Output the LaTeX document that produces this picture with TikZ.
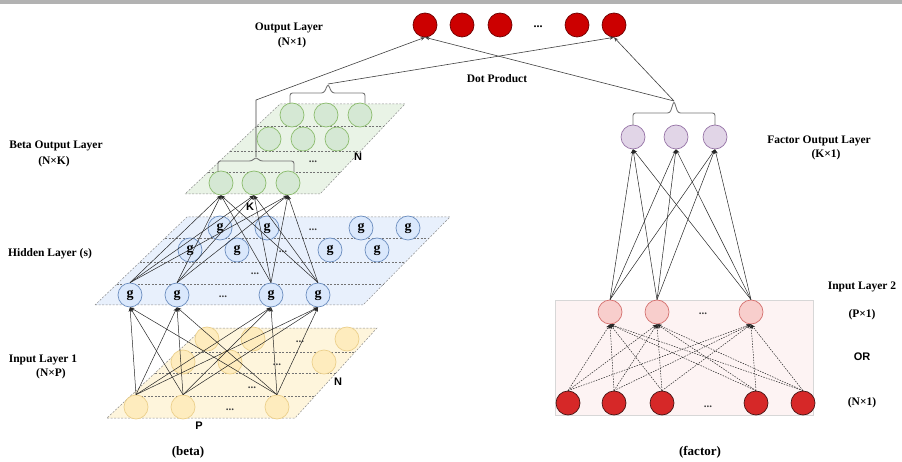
\documentclass[tikz,border=0pt]{standalone}
\usepackage{fontspec}
\setmainfont{Liberation Serif}
\setsansfont{Liberation Sans}
\usetikzlibrary{arrows.meta,calc}

% palette
\definecolor{gplane}{RGB}{233,243,230}
\definecolor{gfill}{RGB}{213,232,212}
\definecolor{gline}{RGB}{140,188,110}
\definecolor{bplane}{RGB}{232,240,252}
\definecolor{bfill}{RGB}{218,232,252}
\definecolor{bline}{RGB}{108,142,191}
\definecolor{yplane}{RGB}{254,245,220}
\definecolor{yfill}{RGB}{254,236,190}
\definecolor{yline}{RGB}{236,208,140}
\definecolor{pbox}{RGB}{253,243,243}
\definecolor{pboxline}{RGB}{215,215,215}
\definecolor{pfill}{RGB}{248,206,204}
\definecolor{pline}{RGB}{212,112,110}
\definecolor{lfill}{RGB}{225,213,231}
\definecolor{lline}{RGB}{150,115,166}
\definecolor{rfill}{RGB}{214,40,40}
\definecolor{rline}{RGB}{70,20,20}
\definecolor{ofill}{RGB}{204,0,0}
\definecolor{oline}{RGB}{110,0,0}

\tikzset{
  plane/.style={draw=black!45, line width=0.5pt, dash pattern=on 2pt off 1.5pt},
  sep/.style={draw=black!55, line width=0.5pt, dash pattern=on 2pt off 1.5pt},
  unit/.style={circle, minimum size=24pt, inner sep=0pt, line width=0.7pt,
               font=\fontsize{14}{14}\selectfont\bfseries},
  gunit/.style={unit, fill=gfill, draw=gline},
  bunit/.style={unit, fill=bfill, draw=bline},
  yunit/.style={unit, fill=yfill, draw=yline},
  punit/.style={unit, fill=pfill, draw=pline},
  lunit/.style={unit, fill=lfill, draw=lline},
  runit/.style={unit, fill=rfill, draw=rline},
  ounit/.style={unit, fill=ofill, draw=oline},
  conn/.style={draw=black!85, line width=0.5pt, -{Stealth[length=4.5pt,width=3.5pt]}},
  dconn/.style={conn, dash pattern=on 1.5pt off 1.2pt},
  link/.style={draw=black!75, line width=0.6pt, -{Stealth[length=4.5pt,width=3.5pt]}},
  bracket/.style={draw=black!55, line width=0.9pt, rounded corners=2.5pt},
  lbl/.style={font=\fontsize{11.5}{13}\selectfont\bfseries, inner sep=0pt},
  caption/.style={font=\fontsize{13}{15}\selectfont\bfseries, inner sep=0pt},
  slbl/.style={font=\fontsize{11}{13}\sffamily\bfseries, inner sep=0pt},
  ell/.style={font=\fontsize{11}{11}\selectfont\bfseries, inner sep=0pt, text=black!75},
}

\begin{document}
\begin{tikzpicture}[x=1pt,y=-1pt]
\useasboundingbox (0,0) rectangle (902,462);
\fill[black!30] (0,0) rectangle (902,4);

% ---------------- beta network: layer planes ----------------
% input layer 1
\coordinate (yBL) at (107,418); \coordinate (yBR) at (295,418);
\coordinate (yTR) at (377,328); \coordinate (yTL) at (203,328);
\filldraw[plane, fill=yplane] (yBL) -- (yBR) -- (yTR) -- (yTL) -- cycle;
\foreach \t in {0.733,0.5,0.244}
  \draw[sep] ($(yBL)!\t!(yTL)$) -- ($(yBR)!\t!(yTR)$);

% hidden layers
\coordinate (hBL) at (95,305); \coordinate (hBR) at (363,305);
\coordinate (hTR) at (450,217); \coordinate (hTL) at (187,217);
\filldraw[plane, fill=bplane] (hBL) -- (hBR) -- (hTR) -- (hTL) -- cycle;
\foreach \t in {0.761,0.489,0.239}
  \draw[sep] ($(hBL)!\t!(hTL)$) -- ($(hBR)!\t!(hTR)$);

% beta output layer
\coordinate (gBL) at (185,194); \coordinate (gBR) at (320,194);
\coordinate (gTR) at (405,104); \coordinate (gTL) at (280,104);
\filldraw[plane, fill=gplane] (gBL) -- (gBR) -- (gTR) -- (gTL) -- cycle;
\foreach \t in {0.756,0.478,0.244}
  \draw[sep] ($(gBL)!\t!(gTL)$) -- ($(gBR)!\t!(gTR)$);

% ---------------- beta network: units ----------------
% input layer 1
\node[yunit] (ya1) at (207,339) {}; \node[yunit] (ya2) at (253,339) {};
\node[ell] at (300,342) {...};      \node[yunit] (ya3) at (347,339) {};
\node[yunit] (yb1) at (183,362) {}; \node[yunit] (yb2) at (230,362) {};
\node[ell] at (277,365) {...};      \node[yunit] (yb3) at (324,362) {};
\node[ell] at (252,388) {...};
\node[yunit] (x1) at (136,407) {};  \node[yunit] (x2) at (183,407) {};
\node[ell] at (230,410) {...};      \node[yunit] (x3) at (277,407) {};
\node[slbl] at (338,382) {N};
\node[slbl] at (199,426) {P};

% hidden layers
\node[bunit] (ha1) at (220,228) {g}; \node[bunit] (ha2) at (267,228) {g};
\node[ell] at (313,230) {...};
\node[bunit] (ha3) at (361,228) {g}; \node[bunit] (ha4) at (408,228) {g};
\node[bunit] (hb1) at (190,250) {g}; \node[bunit] (hb2) at (237,250) {g};
\node[ell] at (283,252) {...};
\node[bunit] (hb3) at (330,250) {g}; \node[bunit] (hb4) at (377,250) {g};
\node[ell] at (255,274) {...};
\node[bunit] (h1) at (130,295) {g}; \node[bunit] (h2) at (177,295) {g};
\node[ell] at (223,297) {...};
\node[bunit] (h3) at (271,295) {g}; \node[bunit] (h4) at (318,295) {g};

% beta output layer
\node[gunit] (ga1) at (292,115) {}; \node[gunit] (ga2) at (326,115) {};
\node[gunit] (ga3) at (360,115) {};
\node[gunit] (gb1) at (269,139) {}; \node[gunit] (gb2) at (303,139) {};
\node[gunit] (gb3) at (337,139) {};
\node[ell] at (313,162) {...};
\node[slbl] at (358,157) {N};
\node[gunit] (b1) at (221,183) {}; \node[gunit] (b2) at (254,183) {};
\node[gunit] (b3) at (288,183) {};
\node[slbl] at (250,207) {K};

% input layer 1 -> first hidden layer
\foreach \s in {x1,x2,x3}
  \foreach \d in {h1,h2,h3,h4}
    \draw[conn] (\s.north) -- (\d.south);
% last hidden layer -> beta output
\foreach \s in {h1,h2,h3,h4}
  \foreach \d in {b1,b2,b3}
    \draw[conn] (\s.north) -- (\d.south);

% ---------------- factor network ----------------
\filldraw[fill=pbox, draw=pboxline, line width=0.6pt] (555,300) rectangle (813,415);
\node[punit] (p1) at (610,312) {}; \node[punit] (p2) at (657,312) {};
\node[ell] at (703,314) {...};     \node[punit] (p3) at (751,312) {};
\node[runit] (r1) at (568,403) {}; \node[runit] (r2) at (614,403) {};
\node[runit] (r3) at (662,403) {};
\node[ell] at (708,407) {...};
\node[runit] (r4) at (756,403) {}; \node[runit] (r5) at (803,403) {};
\node[lunit] (f1) at (633,137) {}; \node[lunit] (f2) at (676,137) {};
\node[lunit] (f3) at (715,137) {};

\foreach \s in {r1,r2,r3,r4,r5}
  \foreach \d in {p1,p2,p3}
    \draw[dconn] (\s.north) -- (\d.south);
\foreach \s in {p1,p2,p3}
  \foreach \d in {f1,f2,f3}
    \draw[conn] (\s.north) -- (\d.south);

% ---------------- output layer ----------------
\node[ounit] (o1) at (425,25) {}; \node[ounit] (o2) at (462,25) {};
\node[ounit] (o3) at (500,25) {};
\node[font=\fontsize{12}{12}\selectfont\bfseries, inner sep=0pt] at (538,27) {...};
\node[ounit] (o4) at (577,25) {}; \node[ounit] (o5) at (614,25) {};

% braces gathering each row and the dot-product links
\coordinate (bk1) at (256,157);
\draw[bracket] (218,172) -- (218,161) -- (252,161) -- (bk1) -- (260,161) -- (294,161) -- (294,172);
\coordinate (bk2) at (328,84);
\draw[bracket] (290,103) -- (290,93) -- (324,93) -- (bk2) -- (332,93) -- (365,93) -- (365,103);
\coordinate (fk) at (674,101);
\draw[bracket] (633,125) -- (633,113) -- (670,113) -- (fk) -- (678,113) -- (715,113) -- (715,125);

\draw[link] (bk1) -- (256,100) -- (o1.south);
\draw[link] (bk2) -- (o5.south);
\draw[link] (fk) -- (o1.south);
\draw[link] (fk) -- (o5.south);

% ---------------- labels ----------------
\node[lbl] at (289,28) {Output Layer};
\node[lbl] at (292,43) {(N×1)};
\node[lbl] at (497,79) {Dot Product};
\node[lbl] at (56,146) {Beta Output Layer};
\node[lbl] at (54,162) {(N×K)};
\node[lbl] at (50,254) {Hidden Layer (s)};
\node[lbl] at (43,360) {Input Layer 1};
\node[lbl] at (51,374) {(N×P)};
\node[lbl] at (819,141) {Factor Output Layer};
\node[lbl] at (826,155) {(K×1)};
\node[lbl] at (862,287) {Input Layer 2};
\node[lbl] at (862,315) {(P×1)};
\node[slbl] at (862,357) {OR};
\node[lbl] at (862,403) {(N×1)};
\node[caption] at (188,452) {(beta)};
\node[caption] at (700,452) {(factor)};
\end{tikzpicture}
\end{document}
